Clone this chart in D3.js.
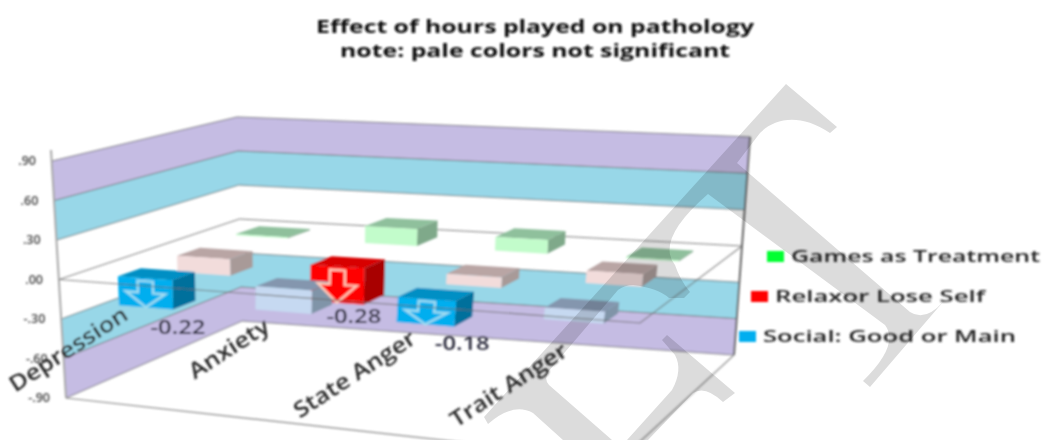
<!DOCTYPE html>
<html><head><meta charset="utf-8">
<script src="https://cdn.jsdelivr.net/npm/d3@7"></script>
<style>html,body{margin:0;padding:0;background:#fff}svg{display:block}text{font-family:"Open Sans",sans-serif}</style>
</head><body><svg id="c" width="1047" height="440"></svg>
<script>
const categories = ["Depression","Anxiety","State Anger","Trait Anger"];
const seriesNames = ["Social: Good or Main","Relaxor Lose Self","Games as Treatment"];
const socialValues = [-0.22,-0.17,-0.18,-0.08];
const relaxValues  = [-0.13,-0.28,-0.08,0.09];
const gamesValues  = [0.01,0.14,0.11,0.01];
const socialSig = [true,false,true,false];
const relaxSig  = [false,true,false,false];
const gamesSig  = [false,false,false,false];
const valueTicks = [0.9,0.6,0.3,0,-0.3,-0.6,-0.9];
const tickLabels = [".90",".60",".30",".00","-.30","-.60","-.90"];
const bandLevels = [[0.6,0.9,"#c5bce3"],[0.3,0.6,"#98d7e8"],[-0.6,-0.3,"#98d7e8"],[-0.9,-0.6,"#c5bce3"]];

const svg = d3.select("#c");
const defs = svg.append("defs");
defs.append("filter").attr("id","soft").attr("x","-5%").attr("y","-5%").attr("width","110%").attr("height","110%")
  .append("feGaussianBlur").attr("stdDeviation",0.85);
const chart = svg.append("g").attr("filter","url(#soft)");

// perspective box: value -> screen position at each of the four vertical edges
const edge = (lo,hi)=>d3.scaleLinear().domain([-0.9,0.9]).range([lo,hi]);
const frontLeft  = edge([66,398],[52,161]);
const backLeft   = edge([242,321],[237,117]);
const backRight  = edge([734,355],[750,137]);
const frontRight = edge([620,460],[660,186]);
function P(t0,d,v){
  const t=t0-0.07*t0*(1-t0)*(1-d); // foreshortening along the front rows
  const a=frontLeft(v),b=frontRight(v),c=backLeft(v),e=backRight(v);
  return [0,1].map(i=>(1-d)*((1-t)*a[i]+t*b[i])+d*((1-t)*c[i]+t*e[i]));
}
const xBand = d3.scaleBand().domain(categories).range([0,1]).paddingInner(0.6).paddingOuter(0.3);
const zBand = d3.scaleBand().domain(seriesNames).range([0,1]).paddingInner(0.61).paddingOuter(0.305);
const poly = pts=>"M"+pts.map(p=>p.map(n=>n.toFixed(2)).join(",")).join("L")+"Z";

// walls
const wall = (v0,v1)=>poly([P(0,0,v0),P(0,1,v0),P(1,1,v0),P(1,1,v1),P(0,1,v1),P(0,0,v1)]);
chart.selectAll("path.band").data(bandLevels).join("path").attr("class","band")
  .attr("d",d=>wall(d[0],d[1])).attr("fill",d=>d[2]);
const wline = v=>poly([P(0,0,v),P(0,1,v),P(1,1,v)]).replace("Z","");
chart.selectAll("path.grid").data(valueTicks).join("path").attr("class","grid")
  .attr("d",wline).attr("fill","none").attr("stroke","#5f5f5f").attr("stroke-width",1).attr("stroke-opacity",0.8);
// axis edges and floor
const seg=(a,b,col,w)=>chart.append("path").attr("d","M"+a+"L"+b).attr("stroke",col).attr("stroke-width",w).attr("fill","none");
seg([51,150],P(0,0,-0.9),"#a8a8a8",2);
seg(P(1,1,0.9),P(1,1,-0.9),"#666",2);
seg(P(0,0,-0.9),P(1,0,-0.9),"#888",1.2);
seg(P(1,0,-0.9),P(1,1,-0.9),"#999",1.4);

// bars
const rows = [
 {name:seriesNames[2],vals:gamesValues,sig:gamesSig,full:["#00ff33","#00c028","#009a20"],pale:["#c2fccb","#8fc09c","#7fa98a"]},
 {name:seriesNames[1],vals:relaxValues,sig:relaxSig,full:["#ff0000","#d80000","#a80000"],pale:["#f2dcdb","#b9a5a4","#a89a98"]},
 {name:seriesNames[0],vals:socialValues,sig:socialSig,full:["#00aeef","#008fc4","#006f9c"],pale:["#c6d9f1","#8496ae","#8094a8"]}
];
const bw=xBand.bandwidth(), dw=zBand.bandwidth();
rows.forEach(r=>{
  const d0=zBand(r.name), d1=d0+dw;
  const g=chart.append("g");
  categories.forEach((c,i)=>{
    const t0=xBand(c),t1=t0+bw,v=r.vals[i],col=r.sig[i]?r.full:r.pale,hi=Math.max(0,v),lo=Math.min(0,v);
    g.append("path").attr("d",poly([P(t0,d0,hi),P(t0,d1,hi),P(t1,d1,hi),P(t1,d0,hi)])).attr("fill",col[1]);
    g.append("path").attr("d",poly([P(t1,d0,hi),P(t1,d1,hi),P(t1,d1,lo),P(t1,d0,lo)])).attr("fill",col[2]);
    g.append("path").attr("d",poly([P(t0,d0,hi),P(t1,d0,hi),P(t1,d0,lo),P(t0,d0,lo)])).attr("fill",col[0]);
  });
});
// block arrows on the significant bars, in front of everything
rows.forEach(r=>categories.forEach((c,i)=>{
  if(!r.sig[i]) return;
  const d0=zBand(r.name),t0=xBand(c),v=r.vals[i];
  const ft=u=>t0+bw*u;
  const shape=[[.36,.1],[.64,.1],[.64,.5],[.86,.5],[.5,1],[.14,.5],[.36,.5]];
  const isRed=r.full[0]==="#ff0000";
  chart.append("path").attr("d",poly(shape.map(s=>P(ft(s[0]),d0,v*s[1]))))
    .attr("fill",r.full[0]).attr("stroke",isRed?"#ffc9b8":"#9fdcf2").attr("stroke-width",2.4);
}));
// zero plane outline drawn over the bars
chart.append("path").attr("d","M"+P(0,0,0)+"L"+P(1,0,0)+"L"+P(1,1,0))
  .attr("fill","none").attr("stroke","#6a6a6a").attr("stroke-width",1.1).attr("stroke-opacity",0.8);

// value tick labels
chart.selectAll("text.tick").data(valueTicks).join("text").attr("class","tick")
  .attr("x",v=>frontLeft(v)[0]-16).attr("y",v=>frontLeft(v)[1]+4)
  .attr("text-anchor","end").attr("font-size",12.5).attr("font-weight",600).attr("fill","#444")
  .text((v,i)=>tickLabels[i]);

// category labels
chart.selectAll("text.cat").data(categories).join("text").attr("class","cat")
  .attr("transform",c=>{const t=xBand(c)+bw/2,p=P(t,0,-0.23);return `translate(${p[0]+12*t},${p[1]+3}) rotate(-33) scale(1.14,1)`;})
  .attr("text-anchor","end").attr("font-size",22).attr("font-weight",600).attr("fill","#2a2a2a").text(c=>c);

// data labels
const labelNudge=[[32,27],[17,20],[37,26]];
[[0,0],[1,1],[0,2]].forEach((rc,k)=>{
  const r=rows[2-rc[0]],c=categories[rc[1]],v=r.vals[rc[1]];
  const p=P(xBand(c)+bw/2,zBand(r.name),v);
  chart.append("text").attr("transform",`translate(${p[0]+labelNudge[k][0]},${p[1]+labelNudge[k][1]}) scale(1.25,1)`)
    .attr("text-anchor","middle").attr("font-size",19).attr("font-weight",600).attr("fill","#2c2c3c").text(String(v));
});

// title
const titleLines=[["Effect of hours played on pathology",27,438],["note: pale colors not significant",51,390]];
chart.selectAll("text.title").data(titleLines).join("text").attr("class","title")
  .attr("x",535).attr("y",d=>d[1]+6).attr("text-anchor","middle").attr("font-weight",700).attr("font-size",18)
  .attr("textLength",d=>d[2]).attr("lengthAdjust","spacingAndGlyphs").attr("fill","#111").text(d=>d[0]);

// legend
const legend=[[seriesNames[2],"#00ff33",767,791,256,249],[seriesNames[1],"#ff0000",751,775,296,210],[seriesNames[0],"#00aeef",739,763,336,253]];
const lg=chart.selectAll("g.lg").data(legend).join("g").attr("class","lg");
lg.append("rect").attr("x",d=>d[2]).attr("y",d=>d[4]-5).attr("width",17).attr("height",11).attr("fill",d=>d[1]);
lg.append("text").attr("x",d=>d[3]).attr("y",d=>d[4]+6).attr("font-size",17).attr("font-weight",600).attr("fill","#222")
  .attr("textLength",d=>d[5]).attr("lengthAdjust","spacingAndGlyphs").text(d=>d[0]);

// diagonal grey watermark strokes
const wm=[
"M786,84L837,127L830,133C800,113 775,118 760,133L737,163L910,312Q925,322 943,302L870,387L863,381Q900,345 885,325L708,194Q655,240 675,265Q680,280 690,292L684,298L669,298Q658,288 633,285Q625,285 618,290L548,372Q544,380 549,385L612,440L563,440L533,413Q513,402 488,424L484,417Z",
"M662,340L667,335L735,393L723,402Q705,385 693,393L648,440L627,440L672,390Q683,370 675,355Z"];
svg.selectAll("path.wm").data(wm).join("path").attr("class","wm").attr("d",d=>d)
  .attr("fill","#dcdcdc").style("mix-blend-mode","multiply");
</script></body></html>
